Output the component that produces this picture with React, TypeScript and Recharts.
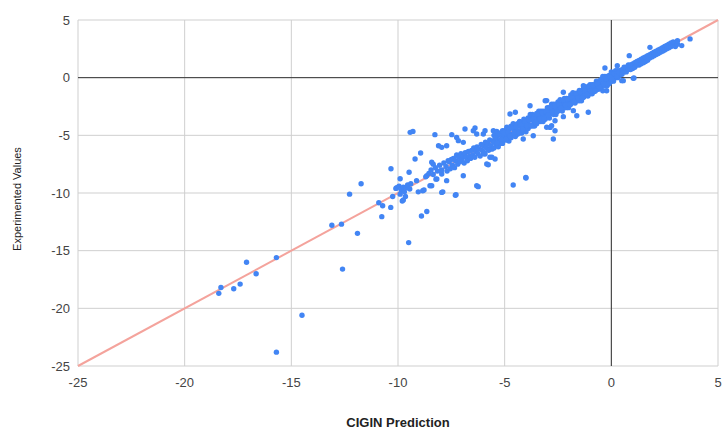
import React from "react";
import { ScatterChart, Scatter, XAxis, YAxis, CartesianGrid, ReferenceLine } from "recharts";

// [CIGIN prediction, experimented value]
const farOutliers: [number, number][] = [
  [-18.4, -18.7], [-18.3, -18.2], [-17.7, -18.3], [-17.4, -17.9], [-17.1, -16.0],
  [-16.65, -17.0], [-15.7, -15.6], [-15.7, -23.8], [-14.5, -20.6], [-13.1, -12.8],
  [-12.65, -12.7], [-12.6, -16.6], [-11.9, -13.5], [-12.27, -10.1], [-11.73, -9.2],
  [-10.9, -10.85], [-10.72, -11.1], [-10.76, -12.05], [-10.34, -11.25], [-10.25, -10.3],
  [-10.33, -7.9], [-10.06, -9.55], [-9.9, -8.76], [-9.8, -10.7], [-9.5, -14.3],
  [-9.43, -4.74], [-9.3, -4.66], [-8.9, -12.0], [-8.65, -11.6], [-4.6, -9.3], [-4.01, -8.65],
];

const leftCluster: [number, number][] = [
  [-10.1, -9.6], [-9.95, -9.4], [-9.85, -9.75], [-9.75, -9.5], [-9.7, -9.9], [-9.6, -9.55],
  [-9.55, -9.3], [-9.45, -9.65], [-9.4, -9.2], [-9.9, -10.1], [-9.65, -10.3], [-9.75, -10.6],
  [-9.48, -8.2], [-9.2, -7.05], [-8.94, -6.53], [-9.13, -8.93], [-8.65, -8.5], [-8.22, -8.8],
  [-7.72, -8.93], [-8.42, -9.37], [-7.9, -9.9], [-7.31, -10.2], [-8.78, -9.74], [-9.05, -9.9],
  [-8.27, -4.94], [-7.48, -4.94], [-7.25, -5.18], [-8.1, -5.9], [-7.95, -6.04], [-7.72, -5.9],
  [-8.35, -7.5], [-8.0, -8.07], [-6.86, -4.45], [-6.39, -4.36], [-6.0, -4.88], [-5.53, -4.6],
  [-5.92, -4.6], [-5.37, -4.66], [-6.31, -4.88], [-6.47, -4.6], [-7.17, -5.46], [-6.94, -5.61],
  [-5.69, -6.9], [-5.45, -7.05], [-5.77, -7.55], [-6.94, -8.5], [-6.31, -9.37], [-7.28, -10.15],
  [-8.42, -7.34], [-8.18, -8.79], [-7.95, -8.35], [-7.95, -9.95], [-6.24, -9.45], [-5.84, -7.49],
  [-5.6, -6.9], [-5.92, -6.62], [-6.0, -6.6], [-8.5, -9.37], [-8.84, -9.8],
];

const midScatter: [number, number][] = [
  [-4.75, -3.15], [-4.5, -3.0], [-3.81, -2.43], [-3.03, -1.99], [-3.1, -2.0], [-2.25, -1.27],
  [-2.87, -4.31], [-2.64, -4.6], [-3.03, -4.3], [-2.64, -3.73], [-2.25, -3.38], [-1.78, -2.86],
  [-1.08, -3.0], [-1.62, -3.3], [-2.72, -5.32], [-2.8, -4.16], [-4.13, -5.32], [-3.66, -5.03],
  [-4.0, -8.7], [-1.31, -0.69], [-0.3, 0.84], [0.28, 1.04], [0.84, 1.91], [1.03, -0.06],
  [0.49, -0.26], [0.56, -0.26], [1.06, -0.03], [-0.22, -1.13], [-0.4, -1.13], [1.81, 2.63],
  [3.3, 2.78], [3.69, 3.36],
];

const bandLow: [number, number][] = [
  [-8.7, -8.6], [-8.55, -8.3], [-8.45, -8.0], [-8.35, -8.4], [-8.25, -7.8], [-8.15, -8.1],
  [-8.05, -7.6], [-7.95, -8.0], [-7.85, -7.4], [-7.75, -7.7], [-7.7, -8.1], [-7.65, -7.2],
  [-7.6, -7.3], [-7.55, -7.9], [-7.5, -7.1], [-7.45, -7.6], [-7.4, -7.0], [-7.35, -7.8],
  [-7.3, -7.2], [-7.25, -6.7], [-7.2, -7.5], [-7.15, -6.9], [-7.1, -7.3], [-7.05, -6.6],
  [-7.0, -7.1], [-6.95, -6.8], [-6.9, -7.4], [-6.85, -6.5], [-6.8, -6.9], [-6.75, -7.2],
  [-6.7, -6.4], [-6.65, -6.8], [-6.6, -7.0], [-6.55, -6.3], [-6.5, -6.7], [-6.45, -6.1],
  [-6.4, -6.9], [-6.35, -6.4], [-6.3, -6.0], [-6.25, -6.6], [-6.2, -6.2], [-6.15, -6.8],
  [-6.1, -5.8], [-6.05, -6.3], [-6.0, -5.9], [-5.95, -6.5], [-5.9, -5.6], [-5.85, -6.1],
  [-5.8, -5.7], [-5.75, -6.3], [-5.7, -5.4], [-5.65, -5.9], [-5.6, -6.2], [-5.55, -5.5],
];

const bandMid: [number, number][] = [
  [-5.5, -5.0], [-5.5, -5.6], [-5.5, -6.1], [-5.4, -5.2], [-5.4, -5.8], [-5.4, -4.8],
  [-5.3, -5.6], [-5.3, -5.0], [-5.3, -6.0], [-5.2, -4.8], [-5.2, -5.4], [-5.2, -5.7],
  [-5.1, -5.0], [-5.1, -5.7], [-5.1, -4.6], [-5.0, -5.1], [-5.0, -4.6], [-5.0, -5.4],
  [-4.9, -4.3], [-4.9, -4.9], [-4.9, -5.4], [-4.8, -4.5], [-4.8, -5.1], [-4.8, -5.5],
  [-4.7, -4.9], [-4.7, -4.2], [-4.7, -5.2], [-4.6, -4.4], [-4.6, -5.0], [-4.6, -4.0],
  [-4.5, -4.6], [-4.5, -4.2], [-4.5, -5.1], [-4.4, -4.0], [-4.4, -4.6], [-4.4, -4.9],
  [-4.3, -4.2], [-4.3, -4.8], [-4.3, -3.8], [-4.2, -4.5], [-4.2, -3.9], [-4.2, -4.8],
  [-4.1, -3.6], [-4.1, -4.1], [-4.1, -4.5], [-4.0, -3.8], [-4.0, -4.3], [-4.0, -4.7],
  [-3.9, -4.0], [-3.9, -3.5], [-3.9, -4.4], [-3.8, -3.5], [-3.8, -4.2], [-3.8, -3.2],
  [-3.7, -3.7], [-3.7, -3.2], [-3.7, -4.2], [-3.6, -3.4], [-3.6, -3.9], [-3.6, -4.2],
  [-3.5, -3.7], [-3.5, -3.1], [-3.5, -4.0], [-3.4, -2.9], [-3.4, -3.5], [-3.4, -3.8],
  [-3.3, -3.2], [-3.3, -3.8], [-3.3, -2.9], [-3.2, -3.5], [-3.2, -2.9], [-3.2, -3.8],
  [-3.1, -2.9], [-3.1, -3.3], [-3.1, -3.6], [-3.0, -2.6], [-3.0, -3.4], [-3.0, -3.0],
  [-2.9, -3.0], [-2.9, -2.6], [-2.9, -3.5], [-2.8, -2.6], [-2.8, -3.1], [-2.8, -2.3],
  [-2.7, -2.7], [-2.7, -3.2], [-2.7, -2.3], [-2.6, -2.3], [-2.6, -2.8], [-2.6, -3.2],
  [-2.5, -2.6], [-2.5, -2.1], [-2.5, -2.9], [-2.4, -2.2], [-2.4, -2.7], [-2.4, -1.9],
  [-2.3, -2.5], [-2.3, -2.0], [-2.3, -2.9], [-2.2, -2.1], [-2.2, -2.6], [-2.2, -1.8],
  [-2.1, -1.8], [-2.1, -2.2], [-2.1, -2.6], [-2.0, -2.2], [-2.0, -1.8], [-2.0, -2.6],
  [-1.9, -1.5], [-1.9, -1.9], [-1.9, -2.3], [-1.8, -1.7], [-1.8, -2.1], [-1.8, -1.3],
  [-1.7, -1.9], [-1.7, -1.4], [-1.7, -2.2], [-1.6, -1.4], [-1.6, -2.0], [-1.6, -1.6],
  [-1.5, -1.6], [-1.5, -1.1], [-1.5, -2.0], [-1.4, -1.1], [-1.4, -1.6], [-1.4, -2.0],
  [-1.3, -1.3], [-1.3, -0.8], [-1.3, -1.7], [-1.2, -1.0], [-1.2, -1.5], [-1.2, -0.8],
  [-1.1, -1.3], [-1.1, -0.8], [-1.1, -1.6], [-1.0, -0.9], [-1.0, -1.4], [-1.0, -0.6],
  [-0.9, -0.6], [-0.9, -1.0], [-0.9, -1.4], [-0.8, -1.0], [-0.8, -0.6], [-0.8, -1.2],
  [-0.7, -0.3], [-0.7, -0.7], [-0.7, -1.0], [-0.6, -0.5], [-0.6, -1.0], [-0.6, -0.3],
  [-0.5, -0.6], [-0.5, -0.2], [-0.5, -0.9], [-0.4, -0.2], [-0.4, -0.7], [-0.4, 0.1],
  [-0.3, -0.3], [-0.3, 0.1], [-0.3, -0.7], [-0.2, 0.1], [-0.2, -0.4], [-0.2, -0.7],
  [-0.1, -0.2], [-0.1, 0.2], [-0.1, -0.5], [0.0, 0.2], [0.0, -0.3], [0.0, 0.5],
  [0.1, 0.0], [0.1, 0.4], [0.1, -0.3], [0.2, 0.4], [0.2, 0.0], [0.2, 0.6],
  [0.3, 0.3], [0.3, 0.0], [0.3, 0.6], [0.4, 0.6], [0.4, 0.2],
];

// in-between points of the dense stretch
const bandFill: [number, number][] = [
  [-5.45, -5.25], [-5.35, -5.65], [-5.25, -4.85], [-5.15, -5.35], [-5.05, -4.75], [-4.95, -5.35],
  [-4.85, -4.75], [-4.75, -5.05], [-4.65, -4.35], [-4.55, -4.75], [-4.45, -4.25], [-4.35, -4.75],
  [-4.25, -4.15], [-4.15, -4.45], [-4.05, -3.75], [-3.95, -4.15], [-3.85, -3.65], [-3.75, -4.15],
  [-3.65, -3.55], [-3.55, -3.85], [-3.45, -3.15], [-3.35, -3.55], [-3.25, -3.05], [-3.15, -3.55],
  [-3.05, -2.95], [-2.95, -3.25], [-2.85, -2.55], [-2.75, -2.95], [-2.65, -2.45], [-2.55, -2.95],
  [-2.45, -2.35], [-2.35, -2.65], [-2.25, -1.95], [-2.15, -2.35], [-2.05, -1.85], [-1.95, -2.35],
  [-1.85, -1.75], [-1.75, -2.05], [-1.65, -1.35], [-1.55, -1.75], [-1.45, -1.25], [-1.35, -1.75],
  [-1.25, -1.15], [-1.15, -1.45], [-1.05, -0.75], [-0.95, -1.15], [-0.85, -0.65], [-0.75, -1.15],
  [-0.65, -0.55], [-0.55, -0.85], [-0.45, -0.15], [-0.35, -0.55], [-0.25, -0.05], [-0.15, -0.55],
  [-0.05, 0.05], [0.05, -0.15], [0.15, 0.35], [0.25, 0.15], [0.35, 0.45],
  [0.65, 0.7], [0.85, 0.9], [1.05, 1.0], [1.25, 1.3], [1.45, 1.4], [1.65, 1.6], [1.85, 1.9],
  [2.05, 2.0], [2.25, 2.3], [2.45, 2.4], [2.65, 2.7], [2.85, 2.9], [3.05, 3.0],
];

const bandHigh: [number, number][] = [
  [0.5, 0.7], [0.5, 0.3], [0.6, 0.5], [0.6, 0.9], [0.7, 0.9], [0.7, 0.5], [0.8, 0.7], [0.8, 1.1],
  [0.9, 1.1], [0.9, 0.7], [1.0, 0.8], [1.0, 1.2], [1.1, 1.3], [1.1, 0.9], [1.2, 1.1], [1.2, 1.4],
  [1.3, 1.5], [1.3, 1.1], [1.4, 1.2], [1.4, 1.6], [1.5, 1.7], [1.5, 1.3], [1.6, 1.4], [1.6, 1.8],
  [1.7, 1.9], [1.7, 1.5], [1.8, 1.7], [1.8, 2.0], [1.9, 2.1], [1.9, 1.8], [2.0, 1.9], [2.0, 2.2],
  [2.1, 2.3], [2.1, 2.0], [2.2, 2.1], [2.2, 2.4], [2.3, 2.5], [2.3, 2.2], [2.4, 2.3], [2.4, 2.6],
  [2.5, 2.7], [2.5, 2.4], [2.6, 2.5], [2.6, 2.8], [2.7, 2.9], [2.7, 2.6], [2.8, 2.7], [2.8, 3.0],
  [2.9, 2.8], [2.9, 3.1], [3.0, 3.0], [3.0, 2.7], [3.1, 2.9], [3.1, 3.2],
];

const axisTicks = [-25, -20, -15, -10, -5, 0, 5];

const points = [
  ...farOutliers, ...leftCluster, ...midScatter, ...bandLow, ...bandMid, ...bandFill, ...bandHigh,
].map(([x, y]) => ({ x, y }));

const FONT = '"Liberation Sans", Arial, sans-serif';

function YTitle(props: any) {
  const vb = props.viewBox || {};
  const cy = vb.y + vb.height / 2 + 6;
  return (
    <text
      x={21}
      y={cy}
      transform={`rotate(-90, 21, ${cy})`}
      textAnchor="middle"
      fontSize={11}
      fill="#222"
      fontFamily={FONT}
    >
      Experimented Values
    </text>
  );
}

// small dots like the sheet export
function Dot(props: any) {
  return <circle cx={props.cx} cy={props.cy} r={2.7} fill="#4285f4" />;
}

export default function App() {
  return (
    <div style={{ position: "absolute", left: 0, top: 0, width: 725, height: 430, background: "#fff" }}>
      <ScatterChart width={725} height={430} margin={{ top: 20, right: 7, bottom: 0, left: 0 }}>
        <CartesianGrid stroke="#cfcfcf" />
        <XAxis
          type="number"
          dataKey="x"
          domain={[-25, 5]}
          ticks={axisTicks}
          tickLine={false}
          axisLine={false}
          tickMargin={6}
          height={64}
          tick={{ fontSize: 13, fill: "#444", fontFamily: FONT }}
          label={{
            value: "CIGIN Prediction",
            position: "insideBottom",
            offset: 3,
            style: { fontSize: 13, fontWeight: 700, fill: "#222", fontFamily: FONT },
          }}
        />
        <YAxis
          type="number"
          dataKey="y"
          domain={[-25, 5]}
          ticks={axisTicks}
          tickLine={false}
          axisLine={false}
          width={78}
          tick={{ fontSize: 13, fill: "#444", fontFamily: FONT }}
          label={<YTitle />}
        />
        <ReferenceLine x={0} stroke="#333" strokeWidth={1} />
        <ReferenceLine y={0} stroke="#333" strokeWidth={1} />
        <ReferenceLine
          segment={[
            { x: -25, y: -25 },
            { x: 5, y: 5 },
          ]}
          stroke="#f4a39c"
          strokeWidth={2}
        />
        <Scatter data={points} fill="#4285f4" shape={<Dot />} isAnimationActive={false} />
      </ScatterChart>
    </div>
  );
}
